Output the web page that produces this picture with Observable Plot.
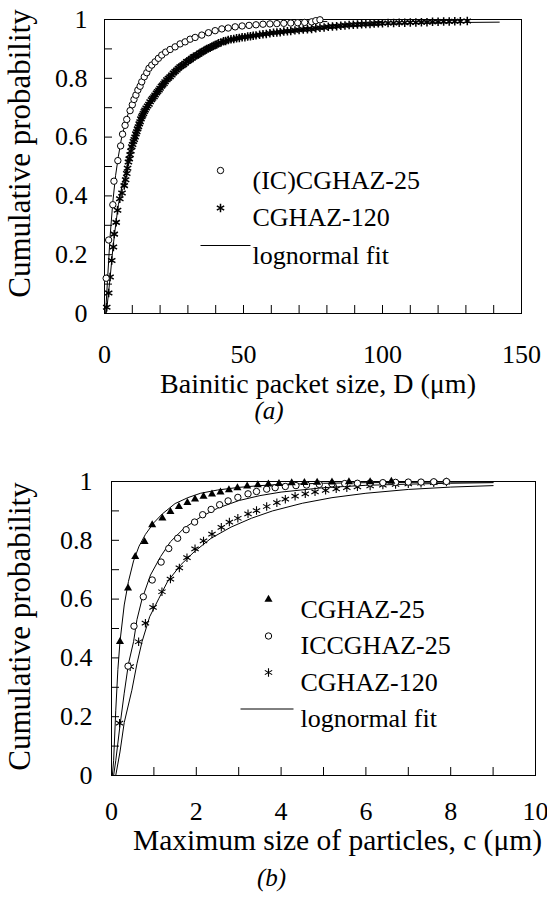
<!DOCTYPE html>
<html>
<head>
<meta charset="utf-8">
<script src="https://cdn.jsdelivr.net/npm/d3@7"></script>
<script src="https://cdn.jsdelivr.net/npm/@observablehq/plot@0.6"></script>
<style>
  html, body { margin: 0; padding: 0; background: #fff; }
  #fig { width: 547px; height: 903px; overflow: hidden; background: #fff; }
  #fig svg { display: block; }
</style>
</head>
<body>
<div id="fig"></div>
<script>
// ---------- Panel (a): bainitic packet size D (µm) vs cumulative probability ----------
const packetIC25 = [
  [0.6,0.12],[1.5,0.25],[3.0,0.37],[3.4,0.45],[4.8,0.52],[5.8,0.57],[6.5,0.61],[7.4,0.64],
  [8.0,0.66],[9.2,0.69],[10.0,0.71],[10.6,0.728],[11.3,0.743],[12.0,0.76],[12.8,0.773],
  [13.4,0.788],[14.3,0.805],[15.2,0.819],[16.0,0.834],[17.0,0.845],[18.2,0.856],[19.4,0.868],
  [20.6,0.879],[22.0,0.889],[23.6,0.898],[25.4,0.907],[27.2,0.917],[29.0,0.924],[30.8,0.933],
  [32.6,0.939],[35.0,0.947],[37.4,0.955],[39.8,0.962],[42.2,0.968],[44.5,0.971],[47.0,0.975],
  [49.5,0.978],[52.0,0.98],[54.5,0.982],[57.0,0.984],[59.5,0.985],[62.0,0.986],[64.5,0.987],
  [67.0,0.988],[69.5,0.989],[72.0,0.99],[74.5,0.992],[76.0,0.996],[77.5,0.999]
];
const packet120 = [
  [0.8,0.021],[1.5,0.07],[2.0,0.124],[2.6,0.18],[3.2,0.226],[3.5,0.27],[4.2,0.31],[4.7,0.351],
  [5.5,0.39],[6.3,0.41],[7.1,0.435],[7.6,0.455],[8.0,0.476],[8.3,0.494],[8.6,0.515],[8.9,0.526],
  [9.2,0.54],[9.5,0.553],[9.8,0.567],[10.1,0.575],[10.4,0.585],[10.7,0.592],[11.0,0.60],
  [11.3,0.611],[11.6,0.618],[11.9,0.628],[12.2,0.635],[12.5,0.645],[12.8,0.652],[13.1,0.662],
  [13.4,0.669],[13.7,0.674],[14.0,0.68],[14.3,0.687],[14.6,0.692],[15.0,0.699],[15.5,0.706],
  [16.0,0.712],[16.4,0.72],[16.9,0.727],[17.3,0.732],[17.8,0.737],[18.2,0.743],[18.7,0.75],
  [19.1,0.755],[19.6,0.76],[20.0,0.766],[20.5,0.773],[20.9,0.777],[21.4,0.782],[21.8,0.788],
  [22.4,0.795],[23.0,0.80],[23.6,0.805],[24.2,0.811],[24.8,0.818],[25.4,0.823],[26.0,0.828],
  [26.6,0.834],[27.2,0.839],[27.8,0.843],[28.4,0.846],[29.0,0.851],[29.6,0.857],[30.2,0.86],
  [30.8,0.863],[31.4,0.868],[32.0,0.873],[32.6,0.875],[33.2,0.878],[33.8,0.882],[34.4,0.887],
  [35.0,0.889],[35.6,0.892],[36.2,0.896],[36.8,0.9],[37.4,0.902],[38.0,0.904],[38.6,0.907],
  [39.2,0.911],[39.8,0.913],[40.4,0.915],[41.0,0.919],[41.9,0.922],[42.8,0.926],[43.6,0.927],
  [44.5,0.93],[45.5,0.933],[46.5,0.934],[47.5,0.936],[48.5,0.937],[49.5,0.94],[50.5,0.94],
  [51.5,0.942],[52.5,0.943],[53.5,0.945],[54.5,0.946],[55.8,0.948],[57.0,0.95],[58.2,0.951],
  [59.5,0.953],[60.8,0.955],[62.0,0.956],[63.2,0.957],[64.5,0.959],[65.8,0.96],[67.0,0.961],
  [68.5,0.963],[70.0,0.964],[71.5,0.966],[73.0,0.967],[74.5,0.968],[76.0,0.97],[77.5,0.972],
  [79.0,0.973],[80.5,0.975],[82.0,0.976],[83.5,0.977],[85.0,0.979],[86.5,0.98],[88.0,0.981],
  [89.5,0.982],[91.0,0.983],[92.5,0.984],[94.0,0.985],[95.5,0.985],[97.0,0.986],[98.5,0.987],
  [100.0,0.987],[102.0,0.988],[104.0,0.988],[106.0,0.989],[108.0,0.989],[110.0,0.99],
  [112.0,0.99],[114.0,0.991],[116.0,0.991],[118.0,0.992],[120.0,0.992],[122.0,0.993],
  [124.0,0.993],[126.0,0.994],[128.0,0.994],[130.5,0.995]
];
const packetIC25Fit = [
  [0.4,0],[1,0.1],[2,0.26],[3,0.38],[4,0.47],[5,0.535],[6,0.59],[7,0.63],[8,0.665],[10,0.72],
  [12,0.76],[14,0.795],[16,0.825],[18,0.85],[20,0.87],[23,0.893],[26,0.912],[30,0.93],
  [35,0.947],[40,0.96],[45,0.969],[50,0.976],[55,0.981],[60,0.985],[65,0.988],[70,0.99],
  [75,0.992],[80,0.993]
];
const packet120Fit = [
  [0.6,0],[1,0.03],[2,0.12],[3,0.22],[4,0.3],[5,0.37],[6,0.42],[7,0.46],[8,0.5],[9,0.535],
  [10,0.565],[12,0.62],[14,0.665],[16,0.705],[18,0.74],[20,0.768],[23,0.8],[26,0.828],
  [30,0.858],[35,0.886],[40,0.908],[45,0.924],[50,0.936],[60,0.953],[70,0.965],[80,0.973],
  [90,0.979],[100,0.983],[110,0.986],[120,0.988],[130,0.99],[142,0.991]
];
const packetTicks = [0, 50, 100, 150];
const packetMinor = [0,10,20,30,40,50,60,70,80,90,100,110,120,130,140,150];
const packetLegend = ["(IC)CGHAZ-25", "CGHAZ-120", "lognormal fit"];

// ---------- Panel (b): maximum particle size c (µm) vs cumulative probability ----------
const particle25 = [
  [0.2,0.455],[0.39,0.637],[0.56,0.744],[0.78,0.795],[0.96,0.852],[1.2,0.875],[1.39,0.897],
  [1.59,0.914],[1.79,0.928],[1.97,0.94],[2.17,0.949],[2.37,0.957],[2.57,0.964],[2.77,0.971],
  [2.97,0.978],[3.2,0.984],[3.45,0.988],[3.7,0.991],[3.95,0.993],[4.25,0.995],[4.55,0.996],
  [4.85,0.997],[5.2,0.998],[5.6,0.999],[6.1,0.999],[6.6,1.0]
];
const particleIC25 = [
  [0.39,0.372],[0.53,0.508],[0.75,0.608],[0.96,0.665],[1.17,0.726],[1.35,0.772],[1.56,0.807],
  [1.76,0.836],[1.96,0.862],[2.15,0.887],[2.35,0.905],[2.55,0.921],[2.75,0.934],[2.98,0.946],
  [3.22,0.958],[3.42,0.966],[3.66,0.974],[3.86,0.979],[4.1,0.983],[4.35,0.986],[4.6,0.988],
  [4.9,0.99],[5.2,0.992],[5.5,0.993],[5.8,0.994],[6.1,0.995],[6.4,0.996],[6.7,0.997],
  [7.0,0.998],[7.3,0.998],[7.6,0.999],[7.9,1.0]
];
const particle120 = [
  [0.19,0.178],[0.44,0.37],[0.64,0.455],[0.8,0.518],[0.98,0.572],[1.19,0.625],[1.39,0.668],
  [1.6,0.706],[1.78,0.741],[1.97,0.771],[2.17,0.798],[2.37,0.821],[2.59,0.844],[2.78,0.862],
  [2.98,0.875],[3.22,0.89],[3.42,0.901],[3.66,0.915],[3.9,0.928],[4.1,0.94],[4.33,0.95],
  [4.57,0.958],[4.8,0.965],[5.05,0.97],[5.3,0.975],[5.55,0.979],[5.8,0.982],[6.1,0.985],
  [6.4,0.988],[6.7,0.99],[7.0,0.992],[7.3,0.994],[7.6,0.996],[7.9,0.998]
];
const particle25Fit = [
  [0.02,0],[0.05,0.05],[0.1,0.22],[0.15,0.36],[0.2,0.455],[0.3,0.58],[0.4,0.66],[0.52,0.73],
  [0.65,0.78],[0.8,0.82],[1.0,0.86],[1.2,0.89],[1.5,0.925],[1.8,0.945],[2.1,0.96],[2.5,0.971],
  [3.0,0.98],[3.5,0.986],[4,0.99],[5,0.994],[6,0.996],[7,0.997],[8,0.998],[9,0.998]
];
const particleIC25Fit = [
  [0.05,0],[0.1,0.05],[0.2,0.17],[0.3,0.28],[0.4,0.38],[0.52,0.455],[0.6,0.53],[0.72,0.6],
  [0.92,0.682],[1.16,0.745],[1.39,0.795],[1.71,0.841],[2.11,0.88],[2.5,0.909],[3.0,0.935],
  [3.5,0.952],[4,0.964],[5,0.979],[6,0.987],[7,0.991],[8,0.994],[9,0.996]
];
const particle120Fit = [
  [0.1,0],[0.2,0.08],[0.3,0.18],[0.48,0.29],[0.6,0.38],[0.72,0.455],[0.9,0.54],[1.12,0.603],
  [1.32,0.659],[1.63,0.716],[1.95,0.761],[2.35,0.807],[2.82,0.845],[3.3,0.875],[3.8,0.9],
  [4.5,0.926],[5.2,0.945],[6,0.96],[7,0.973],[8,0.981],[9,0.986]
];
const particleTicks = [0, 2, 4, 6, 8, 10];
const particleMinor = [0,1,2,3,4,5,6,7,8,9,10];
const particleLegend = ["CGHAZ-25", "ICCGHAZ-25", "CGHAZ-120", "lognormal fit"];

const probTicks = [0, 0.2, 0.4, 0.6, 0.8, 1];
const probMinor = [0,0.1,0.2,0.3,0.4,0.5,0.6,0.7,0.8,0.9,1];

const yTitle = "Cumulative probability";
const serif = "'Liberation Serif', 'Times New Roman', Times, serif";

// marker styles
const styleOpen  = {symbol: "circle", r: 3.2, fill: "white", stroke: "black", strokeWidth: 1};
const styleStarA = {symbol: "asterisk", r: 4, fill: "none", stroke: "black", strokeWidth: 1.5};
const styleStarB = {symbol: "asterisk", r: 4, fill: "none", stroke: "black", strokeWidth: 1.1};
const styleTri   = {symbol: "triangle", r: 3, fill: "black", stroke: "none"};
// short horizontal stroke used as the fit-line legend key
const dash = half => ({draw(ctx) { ctx.moveTo(-half, 0); ctx.lineTo(half, 0); }});

function panel(cfg) {
  const {width, height, margin, xDomain, xTicks, xMinor, xTitle, caption, series, fits, legend, L} = cfg;
  const fw = width - margin.left - margin.right;
  const fh = height - margin.top - margin.bottom;
  const tickPx = 8;
  const xTickLen = tickPx / fh;                                  // in probability units
  const yTickLen = tickPx / fw * (xDomain[1] - xDomain[0]);      // in x units
  const marks = [
    Plot.frame({stroke: "black", strokeWidth: 1}),
    Plot.ruleX(xMinor, {x: d => d, y1: 0, y2: xTickLen, stroke: "black"}),
    Plot.ruleY(probMinor, {y: d => d, x1: xDomain[0], x2: xDomain[0] + yTickLen, stroke: "black"}),
    Plot.text(xTicks, {x: d => d, text: d => String(d), frameAnchor: "bottom", dy: L.xLabelDy, fontSize: 26}),
    Plot.text(probTicks, {y: d => d, text: d => String(d), frameAnchor: "left", dx: L.yLabelDx, textAnchor: "end", fontSize: 26}),
    Plot.text([yTitle], {text: d => d, frameAnchor: "left", textAnchor: "middle", dx: L.yTitleDx, dy: L.yTitleDy, rotate: -90, fontSize: 31}),
    Plot.text([xTitle], {text: d => d, frameAnchor: "bottom", textAnchor: "middle", dx: L.xTitleDx, dy: L.xTitleDy, fontSize: L.xTitleSize}),
    Plot.text([caption], {text: d => d, frameAnchor: "bottom", textAnchor: "middle", dx: L.capDx, dy: L.capDy, fontSize: 25, fontStyle: "italic"}),
    ...fits.map(f => Plot.line(f, {x: d => d[0], y: d => d[1], stroke: "black", strokeWidth: 1})),
    ...series.map(s => Plot.dot(s.data, {x: d => d[0], y: d => d[1], ...s.style}))
  ];
  legend.forEach((entry, i) => {
    const dy = L.legendDy + i * L.legendStep;
    const key = entry.style
      ? Plot.dot([entry.name], {frameAnchor: "top-left", dx: L.legendMarkDx, dy, ...entry.style})
      : Plot.dot([entry.name], {frameAnchor: "top-left", dx: L.legendLineDx, dy, symbol: dash(L.legendLineHalf), r: 5, fill: "none", stroke: "black", strokeWidth: 1});
    marks.push(key);
    marks.push(Plot.text([entry.name], {text: d => d, frameAnchor: "top-left", dx: L.legendTextDx, dy, textAnchor: "start", fontSize: 26}));
  });
  return Plot.plot({
    width, height,
    marginTop: margin.top, marginRight: margin.right, marginBottom: margin.bottom, marginLeft: margin.left,
    x: {domain: xDomain, axis: null},
    y: {domain: [0, 1], axis: null},
    style: {fontFamily: serif, fontSize: "26px", color: "black", background: "white", overflow: "visible"},
    marks
  });
}

const fig = document.getElementById("fig");

fig.appendChild(panel({
  width: 547, height: 450,
  margin: {top: 19, right: 26, bottom: 137, left: 104},
  xDomain: [0, 150], xTicks: packetTicks, xMinor: packetMinor,
  xTitle: "Bainitic packet size, D (μm)", caption: "(a)",
  series: [
    {data: packet120, style: styleStarA},
    {data: packetIC25, style: styleOpen}
  ],
  fits: [packetIC25Fit, packet120Fit],
  legend: [
    {name: packetLegend[0], style: styleOpen},
    {name: packetLegend[1], style: styleStarA},
    {name: packetLegend[2]}
  ],
  L: {xLabelDy: 49, yLabelDx: -17, yTitleDx: -84, yTitleDy: -13, xTitleDx: 5, xTitleDy: 79,
      xTitleSize: 28, capDx: -44, capDy: 105, legendDy: 151, legendStep: 37.5, legendMarkDx: 116,
      legendTextDx: 148, legendLineDx: 121, legendLineHalf: 25}
}));

fig.appendChild(panel({
  width: 547, height: 453,
  margin: {top: 31, right: 12, bottom: 128, left: 111},
  xDomain: [0, 10], xTicks: particleTicks, xMinor: particleMinor,
  xTitle: "Maximum size of particles, c (μm)", caption: "(b)",
  series: [
    {data: particle120, style: styleStarB},
    {data: particleIC25, style: styleOpen},
    {data: particle25, style: styleTri}
  ],
  fits: [particle25Fit, particleIC25Fit, particle120Fit],
  legend: [
    {name: particleLegend[0], style: styleTri},
    {name: particleLegend[1], style: styleOpen},
    {name: particleLegend[2], style: styleStarB},
    {name: particleLegend[3]}
  ],
  L: {xLabelDy: 44, yLabelDx: -19, yTitleDx: -91, yTitleDy: -2, xTitleDx: 14, xTitleDy: 74,
      xTitleSize: 29.5, capDx: -52, capDy: 110, legendDy: 118, legendStep: 36.5, legendMarkDx: 157,
      legendTextDx: 189, legendLineDx: 155.5, legendLineHalf: 26.5}
}));
</script>
</body>
</html>
